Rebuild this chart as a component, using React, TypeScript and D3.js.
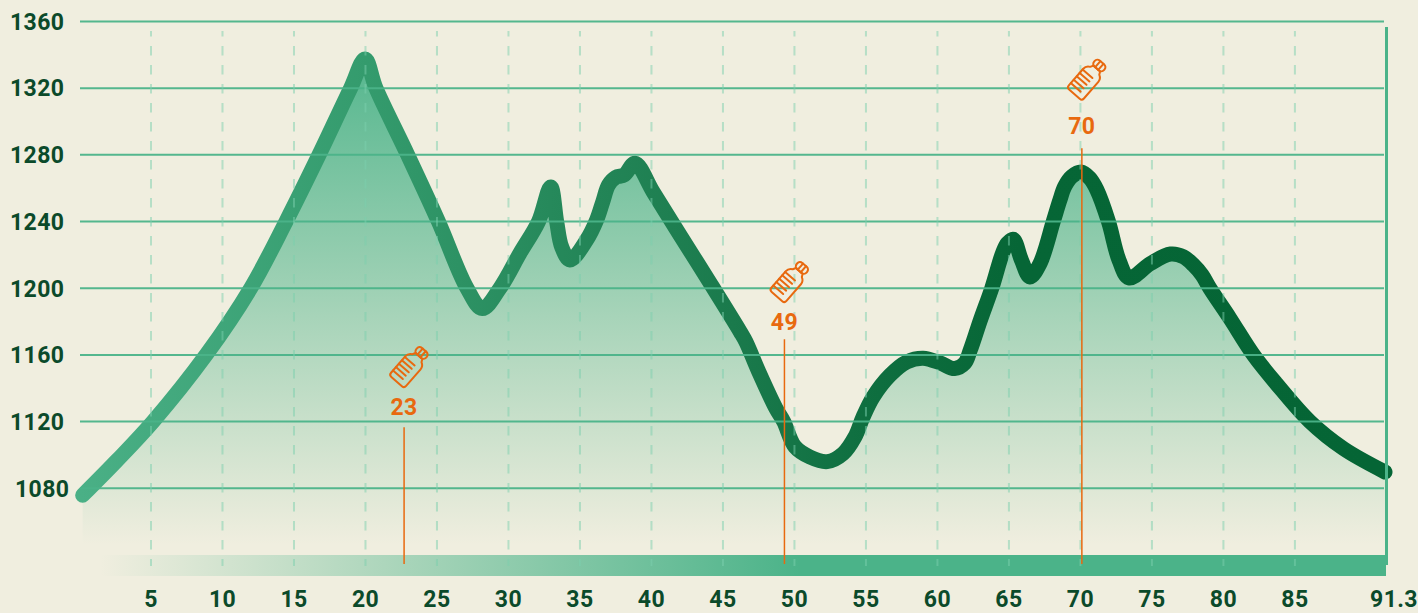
import React from 'react';
import * as d3 from 'd3';

const profileKm = [0.22,2.6,5.14,8.85,11.97,14.44,16.75,18.96,19.97,20.73,22.95,25.1,27.1,28.17,29.4,30.8,32.1,32.95,33.37,33.72,34.3,35.47,36.17,36.6,37.0,37.5,38.1,38.85,40.13,41.87,44.2,46.2,46.6,47.5,48.7,49.25,50.03,51.08,52.29,53.4,54.23,54.8,55.5,56.68,57.85,59,60.18,61.2,61.9,62.3,63.0,63.8,64.55,64.9,65.3,65.88,66.47,67.17,68.1,68.55,68.9,69.4,70.05,70.65,71.15,71.96,72.7,73.4,74.9,76.3,77.2,77.9,78.5,79.05,80.45,82.1,83.7,86.05,88.4,91.3];
const profileEle = [1075.8,1096.5,1120,1160,1200,1240,1280,1320,1337.5,1320,1280,1240,1200,1187.8,1200,1221,1240,1260.8,1240,1224.8,1217,1229,1241,1252,1262,1266.5,1268,1275,1257.6,1233.6,1201.8,1174,1168,1150,1128,1120,1105,1098.8,1096,1100.8,1110.8,1122.8,1134.8,1147.8,1155.8,1158,1155.2,1151.8,1155,1163,1180.8,1200,1221,1227,1229.4,1216.8,1206.8,1214.8,1240,1252.5,1261,1267,1269.7,1266,1259,1240,1216.8,1206.2,1214.9,1220.5,1218.9,1214,1208,1200,1182,1160,1142.8,1120,1103.8,1089.8];
const yTicks = [1360,1320,1280,1240,1200,1160,1120,1080];
const xTicks = [5,10,15,20,25,30,35,40,45,50,55,60,65,70,75,80,85];
const xEnd = 91.3;
const markerKm = [22.7,49.3,70.1];
const markerLabel = ['23','49','70'];
const markerLineEle = [1116.6,1169.4,1284];
const markerLabelEle = [1123.8,1175,1292.5];
const markerBottleEle = [1152.6,1203.6,1325];

const BG = '#f0eedf';
const GREEN = '#4bb389';
const DARK = '#0b4a2a';
const ORANGE = '#e8690f';
const FONT = 'Roboto, sans-serif';

function Bottle({ cx, cy }: { cx: number; cy: number }) {
  return (
    <g transform={`translate(${cx},${cy}) rotate(41)`} fill="none" stroke={ORANGE} strokeWidth={2} strokeLinejoin="round" strokeLinecap="round">
      <path d="M-10,-6 Q-10,-10 -6,-12 L-4.5,-15 L4.5,-15 L6,-12 Q10,-10 10,-6 L10,16 Q10,19 7,19 L-7,19 Q-10,19 -10,16 Z" />
      <rect x={-6.5} y={-23} width={13} height={8} rx={3.5} />
      <path d="M-2,-23 L-2,-15 M2,-23 L2,-15" />
      <path d="M-10,-5 L3,-5 M-10,-0.5 L3,-0.5 M-10,4 L3,4 M-10,8.5 L3,8.5 M-10,13 L3,13" />
    </g>
  );
}

export default function App() {
  const x = d3.scaleLinear().domain([0, xEnd]).range([79.5, 1385]);
  const y = d3.scaleLinear().domain([1080, 1360]).range([488.3, 21.5]);
  const pts = profileKm.map((k, i) => [k, profileEle[i]] as [number, number]);
  const curve = d3.curveCatmullRom.alpha(0.5);
  const line = d3.line<[number, number]>().x(d => x(d[0])).y(d => y(d[1])).curve(curve);
  const area = d3.area<[number, number]>().x(d => x(d[0])).y0(545).y1(d => y(d[1])).curve(curve);
  const textProps = { fontFamily: FONT, fontWeight: 700, fontSize: 23, letterSpacing: 0.4 };

  return (
    <svg width={1418} height={613} style={{ position: 'absolute', left: 0, top: 0, background: BG }}>
      <defs>
        <linearGradient id="fillG" gradientUnits="userSpaceOnUse" x1="0" y1="55" x2="0" y2="545">
          <stop offset="0" stopColor="#4bb389" stopOpacity={0.95} />
          <stop offset="1" stopColor="#4bb389" stopOpacity={0} />
        </linearGradient>
        <linearGradient id="lineG" gradientUnits="userSpaceOnUse" x1="80" y1="0" x2="1385" y2="0">
          <stop offset="0" stopColor="#4ab086" />
          <stop offset="0.22" stopColor="#349b6d" />
          <stop offset="0.36" stopColor="#26895b" />
          <stop offset="0.5" stopColor="#1a7a4c" />
          <stop offset="0.6" stopColor="#0f6f40" />
          <stop offset="0.72" stopColor="#066636" />
          <stop offset="1" stopColor="#056535" />
        </linearGradient>
        <linearGradient id="barG" gradientUnits="userSpaceOnUse" x1="100" y1="0" x2="800" y2="0">
          <stop offset="0" stopColor="#4bb389" stopOpacity={0} />
          <stop offset="1" stopColor="#4bb389" stopOpacity={1} />
        </linearGradient>
      </defs>

      <rect x={100} y={555} width={1286} height={21} fill="url(#barG)" />
      <path d={area(pts) ?? ''} fill="url(#fillG)" />
      <path d={line(pts) ?? ''} fill="none" stroke="url(#lineG)" strokeWidth={15} strokeLinecap="round" strokeLinejoin="round" />

      {yTicks.map(t => (
        <line key={t} x1={80} x2={1384} y1={y(t)} y2={y(t)} stroke={GREEN} strokeWidth={2} strokeOpacity={0.95} />
      ))}
      {xTicks.map(t => (
        <line key={t} x1={x(t)} x2={x(t)} y1={31} y2={566} stroke="#7ccfae" strokeOpacity={0.5} strokeWidth={2} strokeDasharray="9.5 9.5" strokeDashoffset={4} />
      ))}
      <line x1={1386.5} x2={1386.5} y1={27} y2={565} stroke={GREEN} strokeWidth={3} />

      {yTicks.map(t => (
        <text key={t} x={t === 1080 ? 15 : 10} y={y(t)} dy="0.36em" {...textProps} fill={DARK}>{t}</text>
      ))}
      {[...xTicks, xEnd].map(t => (
        <text key={t} x={t === xEnd ? 1394 : x(t)} y={607} textAnchor="middle" {...textProps} fill={DARK}>{t}</text>
      ))}

      {markerKm.map((k, i) => (
        <g key={k}>
          <line x1={x(k)} x2={x(k)} y1={y(markerLineEle[i])} y2={564} stroke={ORANGE} strokeWidth={1.5} />
          <text x={x(k)} y={y(markerLabelEle[i])} textAnchor="middle" {...textProps} fill={ORANGE}>{markerLabel[i]}</text>
          <Bottle cx={x(k) + 5} cy={y(markerBottleEle[i])} />
        </g>
      ))}
    </svg>
  );
}
